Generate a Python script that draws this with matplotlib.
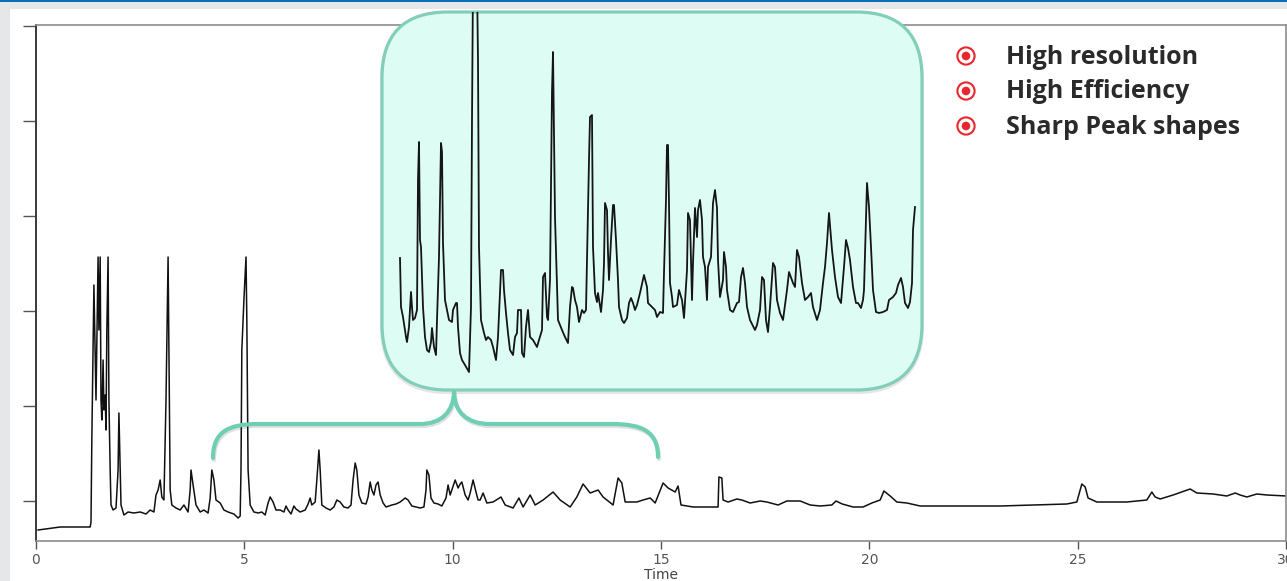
import matplotlib
matplotlib.use("Agg")
import matplotlib.pyplot as plt
from matplotlib.patches import FancyBboxPatch, Rectangle, Circle, PathPatch
from matplotlib.path import Path

# ── data ─────────────────────────────────────────────────────────────────────

# full chromatogram (time in min, detector signal)
main_time = [
    0.05, 0.58, 1.30, 1.32, 1.34, 1.39, 1.44, 1.49, 1.51, 1.54, 1.56, 1.58, 1.61, 1.63,
    1.66, 1.68, 1.70, 1.73, 1.75, 1.78, 1.80, 1.85, 1.92, 1.97, 1.99, 2.02, 2.04, 2.11,
    2.21, 2.35, 2.50, 2.64, 2.74, 2.83, 2.88, 2.93, 2.98, 3.02, 3.07, 3.12, 3.17, 3.19,
    3.22, 3.26, 3.36, 3.46, 3.55, 3.65, 3.70, 3.72, 3.77, 3.84, 3.94, 4.03, 4.13, 4.18,
    4.22, 4.27, 4.32, 4.42, 4.51, 4.61, 4.75, 4.85, 4.90, 4.92, 4.94, 4.99, 5.04, 5.06,
    5.09, 5.14, 5.23, 5.33, 5.42, 5.50, 5.57, 5.62, 5.69, 5.76, 5.86, 5.95, 6.00, 6.05,
    6.12, 6.19, 6.24, 6.34, 6.46, 6.53, 6.58, 6.62, 6.70, 6.74, 6.79, 6.82, 6.86, 6.96,
    7.06, 7.15, 7.22, 7.30, 7.39, 7.49, 7.56, 7.61, 7.66, 7.70, 7.75, 7.82, 7.92, 7.97,
    8.02, 8.06, 8.11, 8.16, 8.21, 8.26, 8.33, 8.40, 8.54, 8.64, 8.74, 8.86, 8.93, 9.02,
    9.22, 9.31, 9.36, 9.38, 9.43, 9.48, 9.55, 9.65, 9.74, 9.84, 9.89, 9.94, 9.98, 10.06,
    10.13, 10.18, 10.22, 10.30, 10.37, 10.42, 10.49, 10.56, 10.61, 10.66, 10.73, 10.82,
    10.97, 11.16, 11.26, 11.45, 11.59, 11.69, 11.86, 11.98, 12.17, 12.41, 12.58, 12.82,
    12.98, 13.13, 13.30, 13.49, 13.61, 13.85, 13.97, 14.06, 14.14, 14.42, 14.57, 14.74,
    14.86, 15.05, 15.17, 15.34, 15.41, 15.48, 15.77, 15.94, 16.37, 16.39, 16.46, 16.49,
    16.61, 16.82, 16.94, 17.14, 17.38, 17.54, 17.81, 18.02, 18.34, 18.58, 18.82, 19.10,
    19.20, 19.35, 19.61, 19.85, 20.06, 20.26, 20.35, 20.50, 20.66, 20.90, 21.22, 23.14,
    24.74, 24.98, 25.10, 25.18, 25.25, 25.46, 26.18, 26.66, 26.78, 26.86, 26.98, 27.29,
    27.70, 27.86, 28.25, 28.58, 28.78, 28.90, 29.06, 29.30, 29.54, 30.02,
]
main_signal = [
    -29, -26, -26, -21, 61, 216, 101, 244, 171, 244, 101, 81, 141, 91,
    106, 71, 171, 244, 101, 31, -4, -9, -7, 31, 88, 31, -4, -14,
    -11, -12, -11, -13, -9, -11, 6, 11, 21, 4, 1, 101, 244, 151,
    11, -4, -7, -9, -4, -11, 11, 31, 16, -4, -11, -9, -12, 3,
    31, 21, 1, -2, -9, -11, -13, -17, -15, 31, 151, 201, 244, 181,
    31, -4, -11, -12, -11, -14, -2, 4, -1, -9, -9, -11, -5, -9,
    -13, -5, -8, -11, -9, -3, 3, -4, -1, 21, 51, 31, -4, -7,
    -9, -6, 1, -1, -6, -7, -4, 21, 38, 31, 6, -2, -3, 4,
    19, 11, 6, 16, 19, 6, -2, -6, -4, -3, -1, 3, 1, -5,
    -7, -6, 11, 31, 26, 3, -2, -3, -5, 3, 16, 6, 11, 21,
    13, 17, 19, 6, 1, 8, 21, 9, 1, 1, 8, -2,
    -1, 4, -4, -7, 3, -6, 6, -4, 1, 9, 1, -6,
    4, 17, 8, 11, 4, -4, 23, 18, -1, -1, 1, 3,
    -2, 18, 13, 9, 15, -4, -6, -6, -6, 24, 23, 1,
    -1, 2, 1, -2, 0, -1, -4, 0, 0, -4, -5, -4,
    0, -3, -6, -6, -2, 1, 10, 5, -1, -2, -5, -5,
    -3, -1, 17, 14, 3, -1, -1, 1, 9, 4, 2, 6,
    12, 8, 7, 5, 8, 6, 4, 7, 6, 5,
]

# expanded view shown in the callout box
zoom_time = [
    4.40, 4.42, 4.46, 4.52, 4.54, 4.58, 4.62, 4.64, 4.66, 4.70, 4.74, 4.76, 4.78, 4.80,
    4.82, 4.86, 4.90, 4.94, 4.98, 5.02, 5.04, 5.08, 5.12, 5.14, 5.18, 5.22, 5.24, 5.26,
    5.30, 5.34, 5.38, 5.44, 5.46, 5.52, 5.54, 5.56, 5.60, 5.64, 5.70, 5.78, 5.82, 5.84,
    5.86, 5.94, 5.96, 5.98, 6.02, 6.08, 6.12, 6.16, 6.22, 6.26, 6.32, 6.36, 6.42, 6.46,
    6.48, 6.52, 6.56, 6.60, 6.66, 6.70, 6.74, 6.76, 6.82, 6.84, 6.88, 6.92, 6.96, 7.00,
    7.06, 7.14, 7.18, 7.24, 7.26, 7.30, 7.34, 7.36, 7.40, 7.44, 7.46, 7.50, 7.54, 7.56,
    7.64, 7.70, 7.76, 7.80, 7.84, 7.86, 7.90, 7.94, 7.98, 8.04, 8.08, 8.12, 8.14, 8.18,
    8.20, 8.24, 8.26, 8.30, 8.34, 8.36, 8.42, 8.46, 8.48, 8.50, 8.54, 8.56, 8.58, 8.62,
    8.66, 8.68, 8.72, 8.76, 8.78, 8.84, 8.88, 8.94, 8.98, 9.02, 9.06, 9.10, 9.14, 9.20,
    9.28, 9.34, 9.36, 9.44, 9.50, 9.54, 9.60, 9.66, 9.68, 9.72, 9.74, 9.76, 9.78, 9.80,
    9.84, 9.86, 9.94, 9.98, 10.04, 10.08, 10.14, 10.16, 10.20, 10.24, 10.26, 10.30, 10.34,
    10.36, 10.40, 10.44, 10.46, 10.50, 10.54, 10.56, 10.62, 10.66, 10.70, 10.74, 10.76,
    10.80, 10.86, 10.88, 10.92, 10.94, 11.00, 11.06, 11.14, 11.18, 11.22, 11.26, 11.30,
    11.34, 11.40, 11.50, 11.54, 11.60, 11.64, 11.68, 11.72, 11.76, 11.80, 11.86, 11.90,
    11.94, 12.00, 12.06, 12.14, 12.18, 12.26, 12.30, 12.34, 12.38, 12.44, 12.50, 12.56,
    12.62, 12.66, 12.74, 12.80, 12.86, 12.90, 12.94, 12.98, 13.04, 13.10, 13.16, 13.22,
    13.28, 13.32, 13.36, 13.40, 13.46, 13.52, 13.56, 13.62, 13.66, 13.68, 13.72, 13.74,
    13.78, 13.82, 13.86, 13.92, 13.98, 14.06, 14.14, 14.18, 14.26, 14.32, 14.36, 14.42,
    14.46, 14.50, 14.56, 14.60, 14.64, 14.66, 14.70,
]
zoom_signal = [
    122, 73, 63, 43, 38, 53, 88, 73, 60, 62, 70, 200, 238, 140,
    133, 73, 43, 30, 28, 38, 52, 33, 25, 60, 123, 237, 228, 137,
    80, 70, 60, 58, 70, 77, 77, 53, 27, 20, 15, 8, 73, 260,
    400, 400, 320, 133, 60, 47, 40, 43, 40, 33, 20, 43, 110, 110,
    90, 67, 47, 30, 25, 43, 47, 70, 70, 27, 23, 53, 70, 43,
    40, 33, 40, 50, 103, 107, 63, 60, 100, 288, 328, 163, 93, 60,
    50, 43, 37, 73, 93, 92, 80, 73, 58, 70, 67, 70, 120, 220,
    263, 265, 133, 87, 78, 87, 68, 90, 117, 177, 170, 127, 100, 140,
    175, 175, 140, 100, 73, 60, 57, 62, 77, 82, 77, 70, 75, 87,
    105, 93, 77, 73, 70, 63, 68, 67, 107, 180, 235, 235, 177, 97,
    83, 73, 75, 90, 80, 62, 110, 167, 160, 80, 117, 172, 143,
    170, 180, 160, 123, 113, 80, 113, 123, 177, 190, 172, 120,
    83, 100, 128, 113, 90, 70, 68, 77, 78, 103, 112, 97,
    73, 60, 50, 55, 70, 103, 100, 60, 48, 73, 117, 113,
    80, 67, 60, 90, 108, 97, 93, 130, 123, 97, 80, 83,
    87, 73, 60, 70, 97, 113, 137, 167, 130, 103, 83, 77,
    113, 140, 132, 120, 93, 77, 77, 72, 80, 90, 160, 197,
    173, 133, 90, 68, 67, 68, 70, 80, 83, 87, 95, 102,
    93, 77, 72, 78, 97, 150, 173,
]

x_ticks = [0, 5, 10, 15, 20, 25, 30]
y_ticks = [0, 95, 190, 285, 380, 475]
bullet_labels = ["High resolution", "High Efficiency", "Sharp Peak shapes"]

TEAL_FILL = "#ddfdf4"
TEAL_EDGE = "#82ceb9"
BRACE = "#6fcfb3"
RED = "#e8262d"

# ── figure ───────────────────────────────────────────────────────────────────

W, H = 1287, 581
fig = plt.figure(figsize=(W / 100, H / 100), dpi=100)
fig.patch.set_facecolor("#e6e7e9")
fig.patches.append(Rectangle((10 / W, 0), 1, (H - 9) / H, transform=fig.transFigure,
                             facecolor="white", edgecolor="none", zorder=-2))
fig.patches.append(Rectangle((0, (H - 2) / H), 1, 2 / H, transform=fig.transFigure,
                             facecolor="#0b6fb3", edgecolor="none", zorder=-2))

# main chromatogram
ax = fig.add_axes([36 / W, 40 / H, 1250 / W, 516 / H])
ax.set_zorder(1)
ax.set_facecolor("none")
ax.plot(main_time, main_signal, color="#111111", lw=1.1)
ax.set_xlim(0, 30)
ax.set_ylim(-40, 476)
ax.set_xticks(x_ticks)
ax.set_yticks(y_ticks)
ax.set_yticklabels([])
ax.tick_params(axis="y", direction="out", length=9.5, width=1.0, color="#555555")
ax.tick_params(axis="x", direction="out", length=5.5, width=1.0, color="#555555",
               labelsize=10, labelcolor="#555555", pad=3)
ax.set_xlabel("Time", fontsize=10, color="#444444", labelpad=1)
for side in ("top", "right", "bottom"):
    ax.spines[side].set_color("#8c8c8c")
    ax.spines[side].set_linewidth(1.2)
ax.spines["left"].set_color("#3a3a3a")
ax.spines["left"].set_linewidth(1.4)

# overlay in pixel coordinates for the callout box, brace and bullets
ov = fig.add_axes([0, 0, 1, 1])
ov.set_xlim(0, W)
ov.set_ylim(H, 0)
ov.axis("off")
ov.set_zorder(2)

shadow = FancyBboxPatch((382, 14), 540, 378, boxstyle="round,pad=0,rounding_size=66",
                        facecolor="none", edgecolor="#000000", alpha=0.10, lw=3)
ov.add_patch(shadow)
box = FancyBboxPatch((382, 12), 540, 378, boxstyle="round,pad=0,rounding_size=66",
                     facecolor=TEAL_FILL, edgecolor=TEAL_EDGE, lw=2.3)
ov.add_patch(box)

verts = [
    (213, 458), (213, 432), (228, 424), (258, 424),
    (420, 424),
    (441, 424), (454, 412), (454, 391),
    (454, 412), (467, 424), (490, 424),
    (612, 424),
    (643, 424), (658, 432), (658, 457),
]
codes = [Path.MOVETO, Path.CURVE4, Path.CURVE4, Path.CURVE4,
         Path.LINETO,
         Path.CURVE4, Path.CURVE4, Path.CURVE4,
         Path.CURVE4, Path.CURVE4, Path.CURVE4,
         Path.LINETO,
         Path.CURVE4, Path.CURVE4, Path.CURVE4]
shadow_verts = [(x + 1, y + 2) for x, y in verts]
ov.add_patch(PathPatch(Path(shadow_verts, codes), facecolor="none", edgecolor="#000000",
                       alpha=0.12, lw=3.0, capstyle="round"))
ov.add_patch(PathPatch(Path(verts, codes), facecolor="none", edgecolor=BRACE,
                       lw=3.0, capstyle="round"))

# bullets
for i, label in enumerate(bullet_labels):
    yc = 56 + i * 35
    ov.add_patch(Circle((966, yc), 8.6, facecolor="white", edgecolor=RED, lw=1.5))
    ov.add_patch(Circle((966, yc), 4.3, facecolor=RED, edgecolor="none"))
    ov.text(1006, yc + 1, label, fontsize=18, fontweight="bold", family="Open Sans",
            color="#2a2a2a", va="center", ha="left")

# expanded trace inside the callout
ins = fig.add_axes([380 / W, (H - 390) / H, 550 / W, 378 / H])
ins.set_zorder(3)
ins.patch.set_alpha(0)
ins.axis("off")
ins.set_xlim(4.0, 15.0)
ins.set_ylim(-10, 368)
line, = ins.plot(zoom_time, zoom_signal, color="#151515", lw=1.3)
line.set_clip_path(box.get_path(), box.get_transform())

fig.savefig("out.png", dpi=100)
